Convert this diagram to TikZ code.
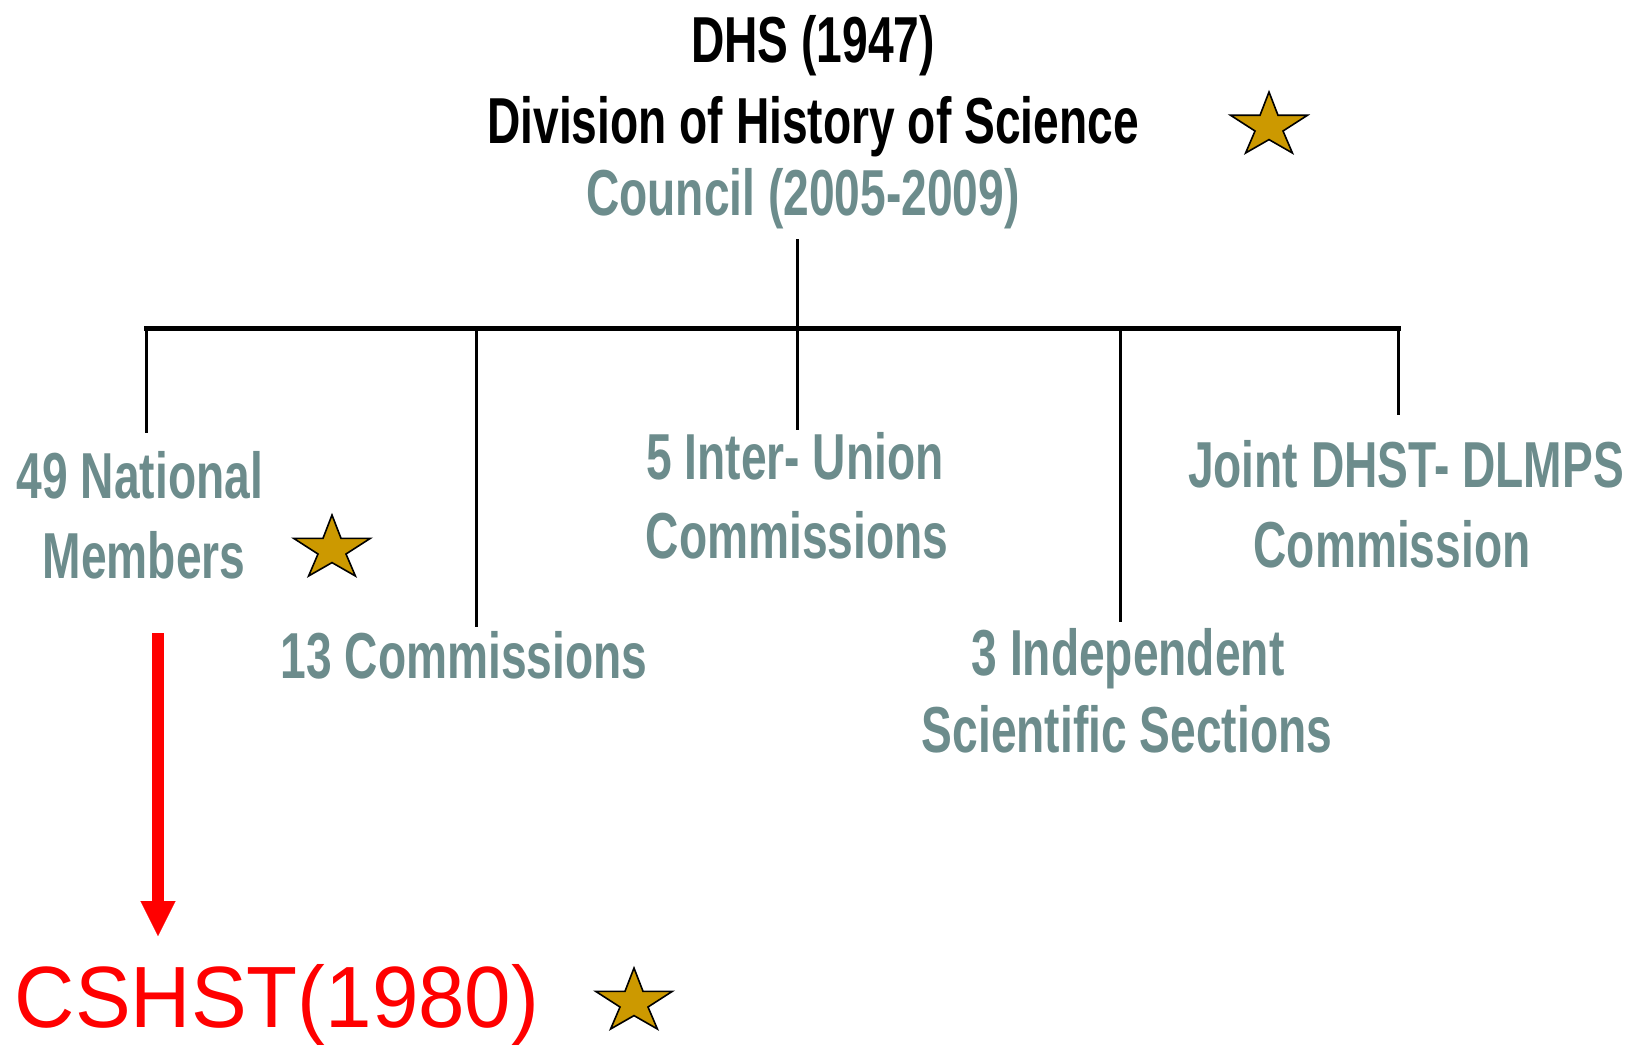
\documentclass[tikz,border=0pt]{standalone}
\usepackage{fontspec}
\setmainfont{Liberation Sans}
\usetikzlibrary{arrows.meta}
\definecolor{tealgray}{RGB}{108,140,140}
\definecolor{stargold}{RGB}{204,153,0}
\newcommand\sqz[1]{\scalebox{0.71}[1]{#1}}
\begin{document}
\begin{tikzpicture}[x=1pt,y=-1pt,
  lbl/.style={anchor=base,inner sep=0pt,font=\fontsize{65}{65}\selectfont\bfseries},
  blk/.style={lbl,text=black},
  tl/.style={lbl,text=tealgray},
  bus/.style={line width=5pt,line cap=rect},
  drop/.style={line width=3pt},
  redarrow/.style={draw=red,line width=11.5pt,-{Triangle[width=35pt,length=35pt,line width=0.1pt]}},
  gstar/.pic={\draw[fill=stargold,line width=1.6pt,line join=miter] (0,0) -- (9,23.3) -- (38.4,23.3) -- (14,39) -- (23.4,61) -- (0,47.6) -- (-23.4,61) -- (-14,39) -- (-38.4,23.3) -- (-9,23.3) -- cycle;}
]
\useasboundingbox (0,0) rectangle (1635,1046);
% titles
\node[blk] (dhs) at (813,63) {\sqz{DHS (1947)}};
\node[blk] (div) at (813,143) {\sqz{Division of History of Science}};
\node[tl] (council) at (803,215) {\sqz{Council (2005-2009)}};
% children
\node[tl] (nat1) at (140,498) {\sqz{49 National}};
\node[tl] (nat2) at (144,578) {\sqz{Members}};
\node[tl] (com13) at (464,678) {\sqz{13 Commissions}};
\node[tl] (iu1) at (795,479) {\sqz{5 Inter- Union}};
\node[tl] (iu2) at (797,558) {\sqz{Commissions}};
\node[tl] (jt1) at (1406,487) {\sqz{Joint DHST- DLMPS}};
\node[tl] (jt2) at (1392,567) {\sqz{Commission}};
\node[tl] (ind1) at (1128,675) {\sqz{3 Independent}};
\node[tl] (ind2) at (1127,752) {\sqz{Scientific Sections}};
\node[anchor=base,inner sep=0pt,text=red,font=\fontsize{87}{87}\selectfont] (cshst) at (277,1027) {\scalebox{0.96}[1]{CSHST(1980)}};
% stars
\pic (s1) at (1269,92) {gstar};
\pic (s2) at (332,515) {gstar};
\pic (s3) at (634,968) {gstar};
% tree connectors
\coordinate (top) at (797,239);
\coordinate (b1) at (146,328);
\coordinate (b2) at (476,328);
\coordinate (b3) at (797,328);
\coordinate (b4) at (1120,328);
\coordinate (b5) at (1398,328);
\coordinate (e1) at (146,433);
\coordinate (e2) at (476,627);
\coordinate (e3) at (797,430);
\coordinate (e4) at (1120,622);
\coordinate (e5) at (1398,415);
\draw[bus] (b1) -- (b5);
\draw[drop] (top) -- (b3);
\draw[drop] (b1) -- (e1);
\draw[drop] (b2) -- (e2);
\draw[drop] (b3) -- (e3);
\draw[drop] (b4) -- (e4);
\draw[drop] (b5) -- (e5);
% red arrow
\coordinate (a0) at (158,633);
\coordinate (a1) at (158,936);
\draw[redarrow] (a0) -- (a1);
\end{tikzpicture}
\end{document}
